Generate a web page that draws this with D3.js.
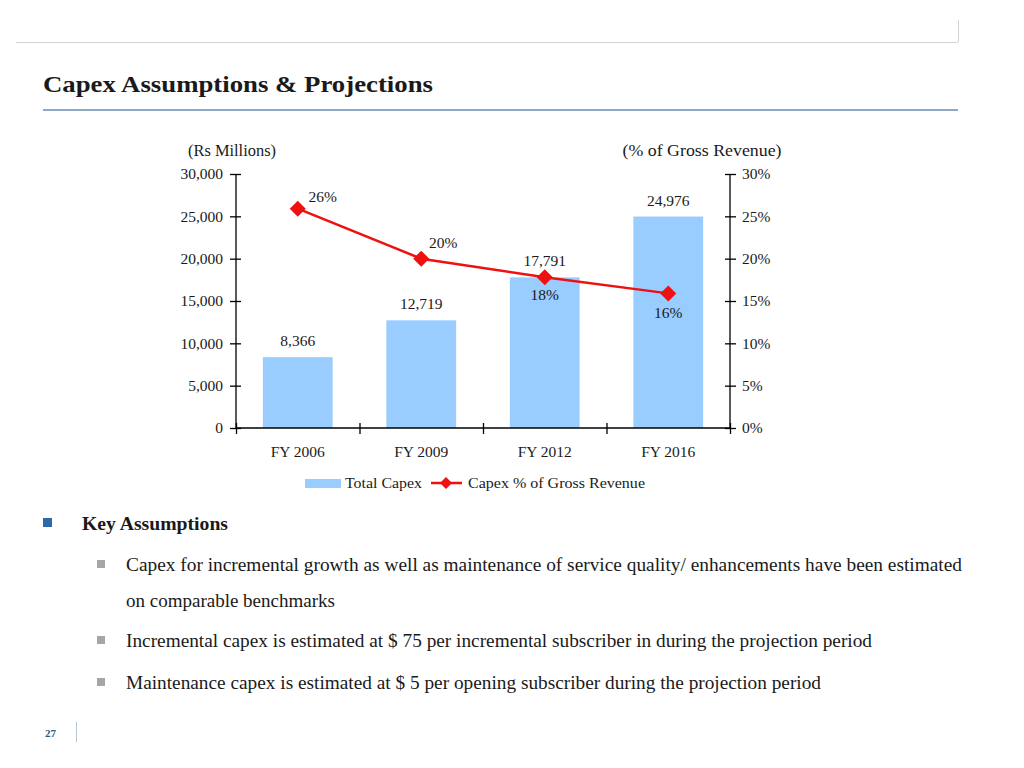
<!DOCTYPE html>
<html><head><meta charset="utf-8">
<script src="https://cdn.jsdelivr.net/npm/d3@7"></script>
<style>
body{margin:0;background:#fff;}
svg text{font-family:"Liberation Serif","Times New Roman",serif;fill:#1a1a1a;}
</style></head>
<body><svg id="c" width="1024" height="768"></svg>
<script>
const categories = ["FY 2006","FY 2009","FY 2012","FY 2016"];
const capex = [8366, 12719, 17791, 24976];
const capexPct = [0.259, 0.200, 0.178, 0.159];
const pctLabels = ["26%","20%","18%","16%"];
const leftTicks = [0,5000,10000,15000,20000,25000,30000];
const rightTicks = [0,0.05,0.10,0.15,0.20,0.25,0.30];
const bullets = [
  ["Capex for incremental growth as well as maintenance of  service quality/ enhancements have been estimated","on comparable benchmarks"],
  ["Incremental capex is estimated at $ 75 per incremental subscriber in during the projection period"],
  ["Maintenance capex is estimated at $ 5 per opening subscriber during the projection period"]
];

const svg = d3.select("#c");
// header
svg.append("line").attr("x1",16).attr("x2",958).attr("y1",42.5).attr("y2",42.5).attr("stroke","#d0d4d8").attr("stroke-width",1);
svg.append("line").attr("x1",958.5).attr("x2",958.5).attr("y1",20).attr("y2",42).attr("stroke","#d0d4d8");
svg.append("text").attr("x",43).attr("y",92).attr("font-size",24).attr("font-weight","bold")
  .attr("textLength",390).attr("lengthAdjust","spacingAndGlyphs").text("Capex Assumptions & Projections");
svg.append("line").attr("x1",43).attr("x2",958).attr("y1",110).attr("y2",110).attr("stroke","#8ea9c8").attr("stroke-width",2);

const L = 236, R = 730, T = 174, B = 428;
const x = d3.scaleBand().domain(categories).range([L,R]).paddingInner(0.435).paddingOuter(0.2175);
const y = d3.scaleLinear().domain([0,30000]).range([B,T]);
const y2 = d3.scaleLinear().domain([0,0.30]).range([B,T]);

const g = svg.append("g");
g.selectAll("rect.bar").data(capex).join("rect").attr("class","bar")
  .attr("x",(d,i)=>x(categories[i])).attr("width",x.bandwidth())
  .attr("y",d=>y(d)).attr("height",d=>B-y(d)).attr("fill","#99ccff");

const fmt = d3.format(",");
g.selectAll("text.bl").data(capex).join("text").attr("class","bl")
  .attr("x",(d,i)=>x(categories[i])+x.bandwidth()/2).attr("y",d=>y(d)-11)
  .attr("text-anchor","middle").attr("font-size",15.5).text(d=>fmt(d));

// axes
const axL = d3.axisLeft(y).tickValues(leftTicks).tickFormat(d3.format(",")).tickSize(6).tickPadding(7);
const gl = svg.append("g").attr("transform",`translate(${L},0)`).call(axL);
const axR = d3.axisRight(y2).tickValues(rightTicks).tickFormat(d3.format(".0%")).tickSize(6).tickPadding(6);
const gr = svg.append("g").attr("transform",`translate(${R},0)`).call(axR);
const xb = d3.scaleLinear().domain([0,4]).range([L,R]);
const axB = d3.axisBottom(xb).tickValues([0,1,2,3,4]).tickFormat("").tickSize(6);
const gb = svg.append("g").attr("transform",`translate(0,${B})`).call(axB);
[gl,gr,gb].forEach(a=>{
  a.select(".domain").attr("stroke","#000").attr("stroke-width",1.3);
  a.selectAll(".tick line").attr("stroke","#000").attr("stroke-width",1.3);
  a.selectAll(".tick text").attr("font-family","Liberation Serif, serif").attr("font-size",15.5).attr("fill","#1a1a1a");
});
gl.selectAll(".domain").attr("d",`M0,${T}V${B}`);
gr.selectAll(".domain").attr("d",`M0,${T}V${B}`);
gb.selectAll(".domain").attr("d",`M${L},0H${R}`);
gl.selectAll(".tick line").attr("x1",5).attr("x2",-6);
gr.selectAll(".tick line").attr("x1",-5).attr("x2",6);
gb.selectAll(".tick line").attr("y1",-5).attr("y2",6);

svg.selectAll("text.cat").data(categories).join("text").attr("class","cat")
  .attr("x",d=>x(d)+x.bandwidth()/2).attr("y",457).attr("text-anchor","middle").attr("font-size",15.5).text(d=>d);

svg.append("text").attr("x",232).attr("y",156).attr("text-anchor","middle").attr("font-size",16)
  .attr("textLength",88).attr("lengthAdjust","spacingAndGlyphs").text("(Rs Millions)");
svg.append("text").attr("x",702).attr("y",156).attr("text-anchor","middle").attr("font-size",16)
  .attr("textLength",159).attr("lengthAdjust","spacingAndGlyphs").text("(% of Gross Revenue)");

// line
const cx = (i)=>x(categories[i])+x.bandwidth()/2;
const line = d3.line().x((d,i)=>cx(i)).y(d=>y2(d));
svg.append("path").datum(capexPct).attr("d",line).attr("fill","none").attr("stroke","#ee1111").attr("stroke-width",2.5);
svg.selectAll("path.mk").data(capexPct).join("path").attr("class","mk")
  .attr("d","M0,-8L8,0L0,8L-8,0Z")
  .attr("transform",(d,i)=>`translate(${cx(i)},${y2(d)})`).attr("fill","#ee1111");
const lblOff = [[25,-7],[22,-11],[0,23],[0,25]];
svg.selectAll("text.pl").data(capexPct).join("text").attr("class","pl")
  .attr("x",(d,i)=>cx(i)+lblOff[i][0]).attr("y",(d,i)=>y2(d)+lblOff[i][1])
  .attr("text-anchor","middle").attr("font-size",15.5).text((d,i)=>pctLabels[i]);

// legend
svg.append("rect").attr("x",305).attr("y",479).attr("width",36).attr("height",9).attr("fill","#99ccff");
svg.append("text").attr("x",345).attr("y",488).attr("font-size",15.5).attr("textLength",77).attr("lengthAdjust","spacingAndGlyphs").text("Total Capex");
svg.append("line").attr("x1",431).attr("x2",462).attr("y1",483).attr("y2",483).attr("stroke","#ee1111").attr("stroke-width",2.5);
svg.append("path").attr("d","M0,-6L6,0L0,6L-6,0Z").attr("transform","translate(446,483)").attr("fill","#ee1111");
svg.append("text").attr("x",468).attr("y",488).attr("font-size",15.5).attr("textLength",177).attr("lengthAdjust","spacingAndGlyphs").text("Capex % of Gross Revenue");

// bullets
svg.append("rect").attr("x",43).attr("y",518).attr("width",9).attr("height",9).attr("fill","#2e6aa8");
svg.append("text").attr("x",82).attr("y",530).attr("font-size",19).attr("font-weight","bold")
  .attr("textLength",146).attr("lengthAdjust","spacingAndGlyphs").text("Key Assumptions");
const lineYs = [[571,607],[647],[689]];
const lineW = [[836,null],[746],[695]];
bullets.forEach((b,i)=>{
  svg.append("rect").attr("x",97).attr("y",lineYs[i][0]-11).attr("width",8).attr("height",8).attr("fill","#a6a6a6");
  b.forEach((t,j)=>{
    const tx = svg.append("text").attr("x",126).attr("y",lineYs[i][j]).attr("font-size",19).text(t);
    if (lineW[i][j]) tx.attr("textLength",lineW[i][j]).attr("lengthAdjust","spacingAndGlyphs");
  });
});
// footer
svg.append("text").attr("x",45).attr("y",737).attr("font-size",11).attr("font-weight","bold").style("fill","#2e5a8a").text("27");
svg.append("line").attr("x1",76.5).attr("x2",76.5).attr("y1",722).attr("y2",742).attr("stroke","#b8c4d0");
</script></body></html>
